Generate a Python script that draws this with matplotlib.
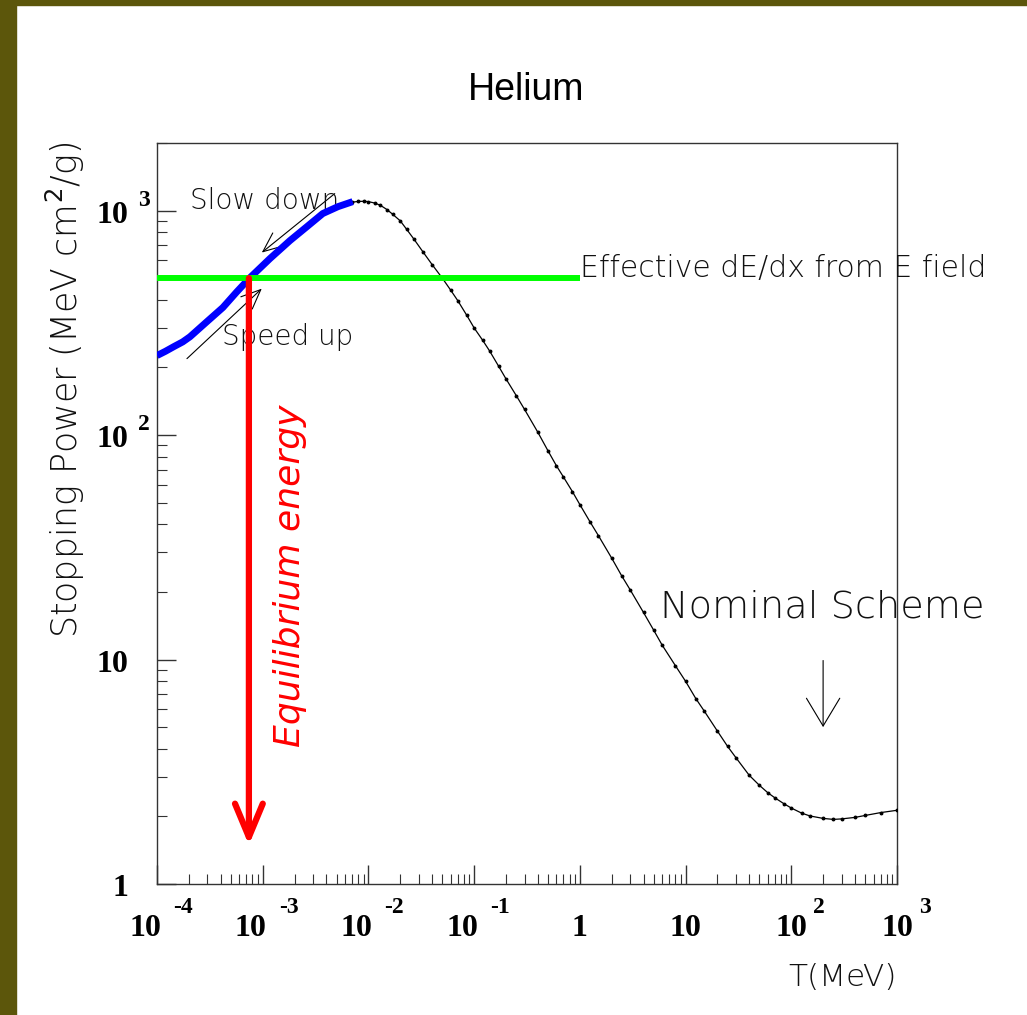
import matplotlib
matplotlib.use("Agg")
import matplotlib.pyplot as plt
from matplotlib.transforms import offset_copy
from matplotlib.patches import Rectangle
from matplotlib.ticker import LogLocator, NullFormatter

# ---------------- data ----------------
black_T = [0.007, 0.008, 0.009, 0.01, 0.0115, 0.013, 0.015, 0.017, 0.02,
           0.023, 0.027, 0.033, 0.04, 0.05, 0.06, 0.07, 0.085, 0.1, 0.12,
           0.14, 0.17, 0.2, 0.25, 0.3, 0.4, 0.5, 0.6, 0.7, 0.85, 1.0, 1.25,
           1.5, 2.0, 2.5, 3.0, 4.0, 5.0, 6.0, 8.0, 10.0, 12.5, 15.0, 20.0,
           25.0, 30.0, 40.0, 50.0, 60.0, 70.0, 85.0, 100.0, 125.0, 150.0,
           200.0, 250.0, 300.0, 400.0, 500.0, 700.0, 1000.0]
black_S = [1090, 1098, 1100, 1096, 1080, 1055, 1010, 962, 900,
           825, 745, 652, 575, 500, 442, 397, 342, 300, 265,
           237, 203, 178, 150, 130, 103, 85, 73, 65, 56, 49, 41,
           35.6, 28.3, 23.5, 20.4, 16.2, 13.5, 11.6, 9.4, 8.0, 6.7, 5.9, 4.8,
           4.1, 3.65, 3.05, 2.75, 2.55, 2.42, 2.28, 2.18, 2.07, 2.01,
           1.96, 1.94, 1.95, 1.98, 2.02, 2.08, 2.13]

blue_T = [1e-4, 1.2e-4, 1.45e-4, 1.75e-4, 2.05e-4, 2.9e-4, 4.2e-4, 5.7e-4,
          7.6e-4, 1.17e-3, 1.81e-3, 2.62e-3, 3.7e-3, 5.15e-3, 7.1e-3]
blue_S = [226, 236, 248, 260, 274, 317, 370, 435, 503, 611, 735, 848, 970,
          1041, 1096]

green_T = [1e-4, 1.0]
green_S = [500, 500]

equil_T = 7.4e-4

xtick_vals = [1e-4, 1e-3, 1e-2, 1e-1, 1, 10, 100, 1000]
xtick_base = ['10', '10', '10', '10', '1', '10', '10', '10']
xtick_exp = ['-4', '-3', '-2', '-1', '', '', '2', '3']
ytick_vals = [1, 10, 100, 1000]
ytick_base = ['1', '10', '10', '10']
ytick_exp = ['', '', '2', '3']

# ---------------- figure ----------------
W, H = 1027, 1015
fig = plt.figure(figsize=(W / 100, H / 100), dpi=100)
fig.patch.set_facecolor('white')
olive = '#5C560B'
fig.patches.append(Rectangle((0, 0), 16 / W, 1, transform=fig.transFigure,
                             color=olive, zorder=0))
fig.patches.append(Rectangle((0, 1 - 5 / H), 1, 5 / H, transform=fig.transFigure,
                             color=olive, zorder=0))

ax_l, ax_r, ax_t, ax_b = 157, 897, 143, 884
ax = fig.add_axes([ax_l / W, 1 - ax_b / H, (ax_r - ax_l) / W, (ax_b - ax_t) / H])
ax.set_xscale('log')
ax.set_yscale('log')
ax.set_xlim(1e-4, 1e3)
ax.set_ylim(1, 2000)

for s in ax.spines.values():
    s.set_color('#333333')
    s.set_linewidth(1.0)

ax.xaxis.set_major_locator(LogLocator(base=10, numticks=20))
ax.xaxis.set_minor_locator(LogLocator(base=10, subs=range(2, 10), numticks=50))
ax.yaxis.set_major_locator(LogLocator(base=10, numticks=20))
ax.yaxis.set_minor_locator(LogLocator(base=10, subs=range(2, 10), numticks=50))
for axis in (ax.xaxis, ax.yaxis):
    axis.set_major_formatter(NullFormatter())
    axis.set_minor_formatter(NullFormatter())
ax.tick_params(which='both', direction='in', top=False, right=False, color='#333333')
ax.tick_params(which='major', length=14, width=1.0)
ax.tick_params(which='minor', length=7, width=0.8)

# curves
ax.plot(black_T, black_S, color='black', lw=0.9, marker='o', markersize=1.8,
        zorder=3)
ax.plot(blue_T, blue_S, color='#0000FF', lw=5, solid_capstyle='butt',
        solid_joinstyle='round', zorder=4)
ax.plot(green_T, green_S, color='#00FF00', lw=4.3, solid_capstyle='butt', zorder=5)

# red equilibrium arrow
ax.annotate('', xy=(equil_T, 1.49), xytext=(equil_T, 500),
            arrowprops=dict(arrowstyle='->,head_length=0.6,head_width=0.25',
                            color='#FF0000', lw=4.5, mutation_scale=40,
                            shrinkA=0, shrinkB=0), zorder=6)
ax.text(1.81e-3, 23.7, 'Equilibrium energy', color='#FF0000', rotation=90,
        fontsize=26, style='italic', ha='center', va='center',
        family='DejaVu Sans')

thin = dict(family='DejaVu Sans', weight='light', color='#111111')

# slow down / speed up
ax.annotate('', xy=(9.8e-4, 650), xytext=(4.8e-3, 1190),
            arrowprops=dict(arrowstyle='->,head_length=0.7,head_width=0.3',
                            color='black', lw=0.8, mutation_scale=20,
                            shrinkA=0, shrinkB=0))
ax.annotate('', xy=(9.8e-4, 449), xytext=(1.92e-4, 219),
            arrowprops=dict(arrowstyle='->,head_length=0.7,head_width=0.3',
                            color='black', lw=0.8, mutation_scale=20,
                            shrinkA=0, shrinkB=0))
ax.text(2.05e-4, 1107, 'Slow down', fontsize=20, ha='left', va='center', **thin)
ax.text(4.1e-4, 272, 'Speed up', fontsize=20, ha='left', va='center', **thin)
ax.text(1.0, 551, 'Effective dE/dx from E field', fontsize=21.5, ha='left',
        va='center', clip_on=False, **thin)

# nominal scheme
ax.text(5.74, 17.1, 'Nominal Scheme', fontsize=27.5, ha='left', va='center',
        clip_on=False, **thin)
ax.annotate('', xy=(200, 5.0), xytext=(200, 9.9),
            arrowprops=dict(arrowstyle='->,head_length=1.0,head_width=0.6',
                            color='black', lw=0.8, mutation_scale=20,
                            shrinkA=0, shrinkB=0))

# tick labels
serif = dict(family='Liberation Serif', weight='bold', color='black')
xtr = ax.get_xaxis_transform()
y_base = -(936 - ax_b) / (ax_b - ax_t)
y_exp = -(913 - ax_b) / (ax_b - ax_t)
for v, b, e in zip(xtick_vals, xtick_base, xtick_exp):
    if e == '':
        ax.text(v, y_base, b, transform=xtr, ha='center', va='baseline',
                fontsize=23, clip_on=False, **serif)
    else:
        dx = 4 if e.startswith('-') else 16
        gap = 12 if e.startswith('-') else 6
        t = offset_copy(xtr, fig=fig, x=dx, y=0, units='dots')
        ax.text(v, y_base, b, transform=t, ha='right', va='baseline',
                fontsize=23, clip_on=False, **serif)
        t2 = offset_copy(xtr, fig=fig, x=dx + gap, y=0, units='dots')
        ax.text(v, y_exp, e, transform=t2, ha='left', va='baseline',
                fontsize=17, clip_on=False, **serif)

ytr = ax.get_yaxis_transform()
x_right = -(ax_l - 128) / (ax_r - ax_l)
for v, b, e in zip(ytick_vals, ytick_base, ytick_exp):
    t = offset_copy(ytr, fig=fig, x=0, y=-12, units='dots')
    ax.text(x_right, v, b, transform=t, ha='right', va='baseline',
            fontsize=23, clip_on=False, **serif)
    if e:
        t2 = offset_copy(ytr, fig=fig, x=10, y=5, units='dots')
        ax.text(x_right, v, e, transform=t2, ha='left', va='baseline',
                fontsize=17, clip_on=False, **serif)

# axis titles
fig.text(526 / W, 1 - 90 / H, 'Helium', family='Liberation Sans', fontsize=27,
         ha='center', va='center')
fig.text(65 / W, 1 - 390 / H, 'Stopping Power (MeV cm$^2$/g)', rotation=90,
         fontsize=25, ha='center', va='center', **thin)
fig.text(897 / W, 1 - 978 / H, 'T(MeV)', fontsize=22.5, ha='right', va='center',
         **thin)

fig.savefig('out.png', dpi=100, facecolor='white')
